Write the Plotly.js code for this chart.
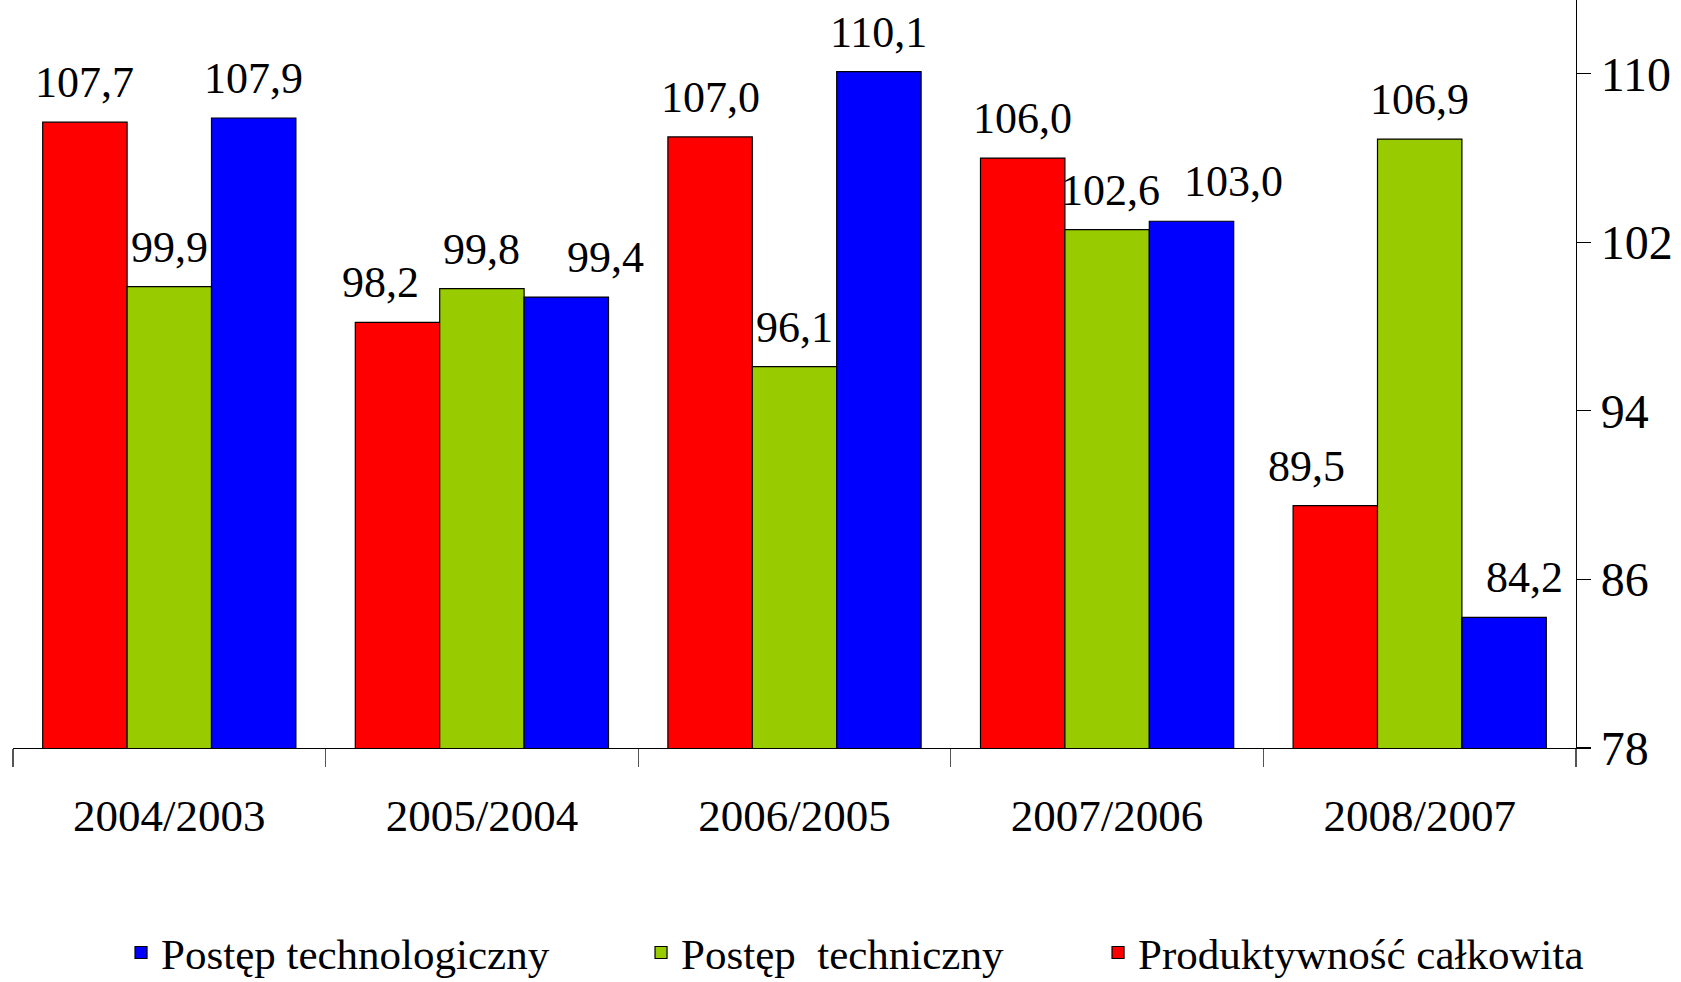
<!DOCTYPE html>
<html>
<head>
<meta charset="utf-8">
<script src="https://cdn.plot.ly/plotly-3.0.1.min.js"></script>
<style>html,body{margin:0;padding:0;background:#fff;}#chart{width:1681px;height:982px;}</style>
</head>
<body>
<div id="chart"></div>
<script>
const categories = ["2004/2003", "2005/2004", "2006/2005", "2007/2006", "2008/2007"];
const produktywnosc = [107.7, 98.2, 107.0, 106.0, 89.5];
const postepTechniczny = [99.9, 99.8, 96.1, 102.6, 106.9];
const postepTechnologiczny = [107.9, 99.4, 110.1, 103.0, 84.2];
const seriesNames = ["Produktywność całkowita", "Postęp  techniczny", "Postęp technologiczny"];
const seriesColors = ["#ff0000", "#99cc00", "#0000ff"];
const yTicks = [78, 86, 94, 102, 110];
// small horizontal nudges of value labels (px), as in the original figure
const labelNudge = [
  [0, -17, 0, 0, -29],
  [0, 0, 0, 3, 0],
  [0, 39, 0, 42, 20]
];

const FONT = '"Liberation Serif", "Times New Roman", serif';
const W = 1681, H = 982;
const M = {l: 13, r: 105, t: 0, b: 234};
const BARGAP = 0.19;

function fmt(v) { return v.toFixed(1).replace('.', ','); }

const seriesValues = [produktywnosc, postepTechniczny, postepTechnologiczny];
const legendWidths = [460, 412, 475];

const data = seriesValues.map((vals, k) => ({
  type: 'bar',
  name: seriesNames[k],
  x: categories,
  y: vals,
  marker: {color: seriesColors[k], line: {color: '#000', width: 1.2}},
  legendwidth: legendWidths[k],
  hoverinfo: 'x+y'
}));

// value labels placed through the axes (x category, y value), offset to each bar of the group
const catW = (W - M.l - M.r) / categories.length;
const barW = catW * (1 - BARGAP) / seriesValues.length;
const annotations = [];
seriesValues.forEach((vals, k) => {
  vals.forEach((v, i) => {
    annotations.push({
      x: categories[i], y: v, xref: 'x', yref: 'y',
      text: fmt(v),
      showarrow: false,
      xanchor: 'center', yanchor: 'bottom',
      xshift: (k - 1) * barW + labelNudge[k][i],
      yshift: 13,
      font: {family: FONT, size: 44, color: '#000'}
    });
  });
});

const layout = {
  width: W,
  height: H,
  margin: M,
  paper_bgcolor: '#ffffff',
  plot_bgcolor: '#ffffff',
  barmode: 'group',
  bargap: BARGAP,
  bargroupgap: 0,
  font: {family: FONT, color: '#000'},
  annotations: annotations,
  showlegend: true,
  legend: {
    orientation: 'h',
    traceorder: 'reversed',
    xref: 'container', yref: 'container',
    x: 0.072, xanchor: 'left',
    y: 0.03, yanchor: 'middle',
    font: {family: FONT, size: 43, color: '#000'},
    bgcolor: 'rgba(0,0,0,0)'
  },
  xaxis: {
    type: 'category',
    showline: true, linecolor: '#000', linewidth: 1.2,
    ticks: 'outside', tickson: 'boundaries', ticklen: 18, tickcolor: '#555', tickwidth: 1.2,
    ticklabelstandoff: 28,
    tickfont: {family: FONT, size: 45, color: '#000'},
    showgrid: false, zeroline: false
  },
  yaxis: {
    side: 'right',
    range: [78, 113.5],
    tickvals: yTicks,
    ticktext: yTicks.map(String),
    showline: true, linecolor: '#000', linewidth: 1.2,
    ticks: 'outside', ticklen: 14, tickcolor: '#000', tickwidth: 1.2,
    tickfont: {family: FONT, size: 48, color: '#000'},
    showgrid: false, zeroline: false
  }
};

Plotly.newPlot('chart', data, layout, {displayModeBar: false, staticPlot: true});
</script>
</body>
</html>
